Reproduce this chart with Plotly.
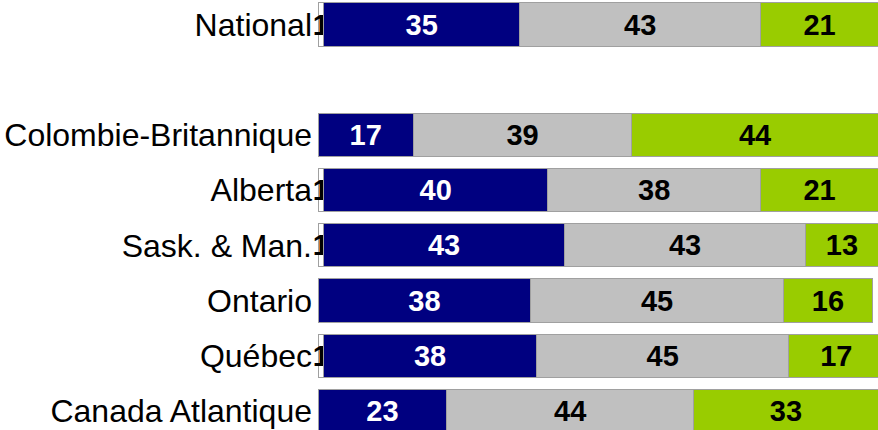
import plotly.graph_objects as go

categories = ["National", "Colombie-Britannique", "Alberta", "Sask. & Man.", "Ontario", "Québec", "Canada Atlantique"]
positions = [0, 2, 3, 4, 5, 6, 7]
white_vals = [1, 0, 1, 1, 0, 1, 0]
navy_vals = [35, 17, 40, 43, 38, 38, 23]
gray_vals = [43, 39, 38, 43, 45, 45, 44]
green_vals = [21, 44, 21, 13, 16, 17, 33]

series = [
    (white_vals, "#FFFFFF", "#000000"),
    (navy_vals, "#000080", "#FFFFFF"),
    (gray_vals, "#C0C0C0", "#000000"),
    (green_vals, "#99CC00", "#000000"),
]

fig = go.Figure()
for vals, col, tcol in series:
    fig.add_trace(go.Bar(
        y=positions, x=vals, orientation="h", width=0.78,
        marker=dict(color=col, line=dict(color="#A0A0A0", width=1)),
        text=[str(v) if v else "" for v in vals],
        textposition="inside", insidetextanchor="middle",
        constraintext="none", textangle=0, cliponaxis=False,
        textfont=dict(family="Liberation Sans, Arial", size=29, color=tcol, weight="bold"),
        hoverinfo="skip", showlegend=False,
    ))

fig.update_layout(
    barmode="stack", width=884, height=430,
    margin=dict(l=318, r=0, t=0, b=0),
    plot_bgcolor="white", paper_bgcolor="white",
    xaxis=dict(range=[0, 101], visible=False, fixedrange=True),
    yaxis=dict(range=[7.346, -0.444], tickvals=positions, ticktext=categories,
               showgrid=False, zeroline=False, showline=False, ticks="",
               ticklabelstandoff=5, fixedrange=True,
               tickfont=dict(family="Liberation Sans, Arial", size=32, color="#000000")),
)
fig.write_html(
    "out.html",
    config={"displayModeBar": False},
    post_script="document.documentElement.style.overflow='hidden';"
                "document.body.style.margin='0';document.body.style.overflow='hidden';",
)
